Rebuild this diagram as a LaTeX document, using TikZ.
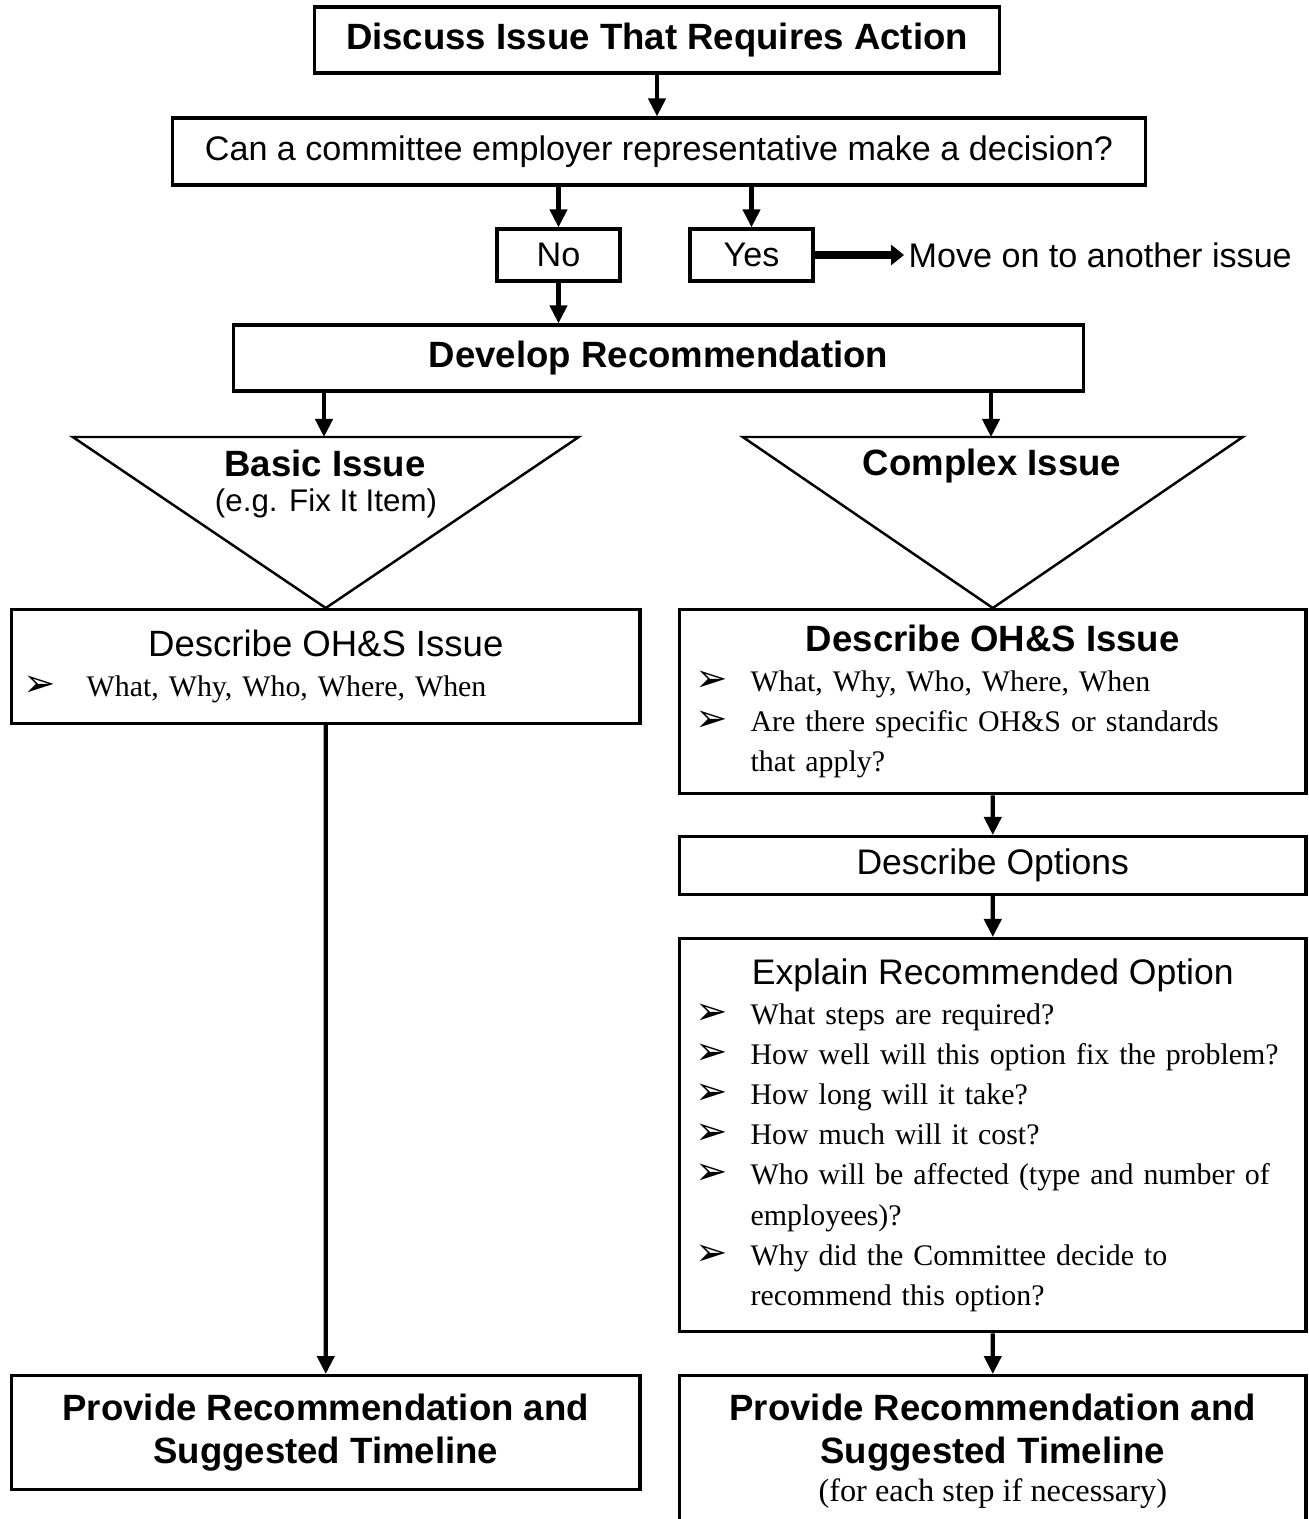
\documentclass[tikz,border=0pt]{standalone}
\usepackage{fontspec}
\setmainfont{Liberation Serif}
\setsansfont{Liberation Sans}
\newfontfamily\bulfont{DejaVu Sans}
\usetikzlibrary{arrows.meta}
\setlength\parindent{0pt}
\hyphenpenalty=10000
\newcommand{\bul}[1][0.55cm]{\makebox[#1][l]{\bulfont\fontsize{11}{10}\selectfont ➢}}

\begin{document}
\begin{tikzpicture}[x=0.01cm,y=-0.01cm]
\tikzset{box/.style={draw, line width=0.9pt, rectangle, inner sep=0pt, font=\sffamily\fontsize{9.7}{11.5}\selectfont},
  hdbox/.style={box, align=center, font=\sffamily\bfseries\fontsize{10.4}{12}\selectfont},
  listbox/.style={box, anchor=north west, inner ysep=0pt, align=left, font=\rmfamily\fontsize{8.5}{11.4}\selectfont},
  arr/.style={-{Triangle[length=0.18cm,width=0.17cm]}, line width=1.2pt},
  tri/.style={line width=0.7pt, line join=miter}}
\useasboundingbox (0,0) rectangle (1308,1519);
% top of the chart
\node[hdbox, minimum width=6.84cm, minimum height=0.66cm] (disc) at (657,40) {Discuss Issue That Requires Action};
\node[box, minimum width=9.72cm, minimum height=0.67cm] (q) at (659,151.5) {Can a committee employer representative make a decision?};
\node[box, minimum width=1.23cm, minimum height=0.52cm] (no) at (558.5,255) {No};
\node[box, minimum width=1.23cm, minimum height=0.52cm] (yes) at (751.5,255) {Yes};
\node[font=\sffamily\fontsize{9.7}{11.5}\selectfont, anchor=west, inner sep=0.04cm] (mv) at (904,255) {Move on to another issue};
\node[hdbox, minimum width=8.49cm, minimum height=0.66cm] (dev) at (658.5,358) {Develop Recommendation};
\draw[arr] (disc) -- (q.north -| disc);
\draw[arr] (q.south -| no) -- (no);
\draw[arr] (q.south -| yes) -- (yes);
\draw[-{Triangle[length=0.13cm,width=0.2cm]}, line width=2pt] (yes) -- (mv);
\draw[arr] (no) -- (dev.north -| no);
% basic issue
\node[listbox, text width=6.04cm, inner xsep=0.12cm, minimum height=1.14cm] (dL) at (10,608)
  {\makebox[\hsize][c]{\sffamily\fontsize{10.4}{12}\selectfont Describe OH\&S Issue}\\
   \bul[0.63cm]What, Why, Who, Where, When};
\node[hdbox, anchor=north west, minimum width=6.28cm, minimum height=1.14cm] (pL) at (10,1374)
  {Provide Recommendation and\\Suggested Timeline};
\coordinate (bt) at (324,437);
\draw[tri] (dL.north) -- ++(-253,-171) -- ++(506,0) -- cycle;
\node[font=\sffamily\bfseries\fontsize{10.4}{12}\selectfont] (basic) at (325,463) {Basic Issue};
\node[font=\sffamily\fontsize{8.9}{11}\selectfont] (basicsub) at (326,503) {(e.g. Fix It Item)};
\draw[arr] (dev.south -| bt) -- (bt);
\draw[arr] (dL) -- (pL);
% complex issue
\node[listbox, text width=5.94cm, inner xsep=0.16cm, minimum height=1.84cm] (dR) at (678,608)
  {\makebox[\hsize][c]{\sffamily\bfseries\fontsize{10.4}{12}\selectfont Describe OH\&S Issue}\\
   \bul What, Why, Who, Where, When\\
   \bul Are there specific OH\&S or standards\\
   \hspace*{0.55cm}that apply?};
\node[box, anchor=north west, font=\sffamily\fontsize{10.1}{12}\selectfont, minimum width=6.26cm, minimum height=0.58cm] (opt) at (678,835) {Describe Options};
\node[listbox, text width=5.94cm, inner xsep=0.16cm, minimum height=3.93cm] (exp) at (678,937)
  {\makebox[\hsize][c]{\sffamily\fontsize{10.1}{12}\selectfont Explain Recommended Option}\\
   \bul What steps are required?\\
   \bul How well will this option fix the problem?\\
   \bul How long will it take?\\
   \bul How much will it cost?\\
   \bul Who will be affected (type and number of\\
   \hspace*{0.55cm}employees)?\\
   \bul Why did the Committee decide to\\
   \hspace*{0.55cm}recommend this option?};
\node[hdbox, anchor=north west, minimum width=6.26cm, minimum height=1.52cm] (pR) at (678,1374)
  {Provide Recommendation and\\Suggested Timeline\\[-1pt]
   {\rmfamily\mdseries\fontsize{9.2}{11}\selectfont (for each step if necessary)}};
\coordinate (ct) at (991,437);
\draw[tri] (dR.north) -- ++(-250,-171) -- ++(500,0) -- cycle;
\node[font=\sffamily\bfseries\fontsize{10.4}{12}\selectfont] (complex) at (992,466) {Complex Issue};
\draw[arr] (dev.south -| ct) -- (ct);
\draw[arr] (dR) -- (opt);
\draw[arr] (opt) -- (exp);
\draw[arr] (exp) -- (pR);
\end{tikzpicture}
\end{document}
